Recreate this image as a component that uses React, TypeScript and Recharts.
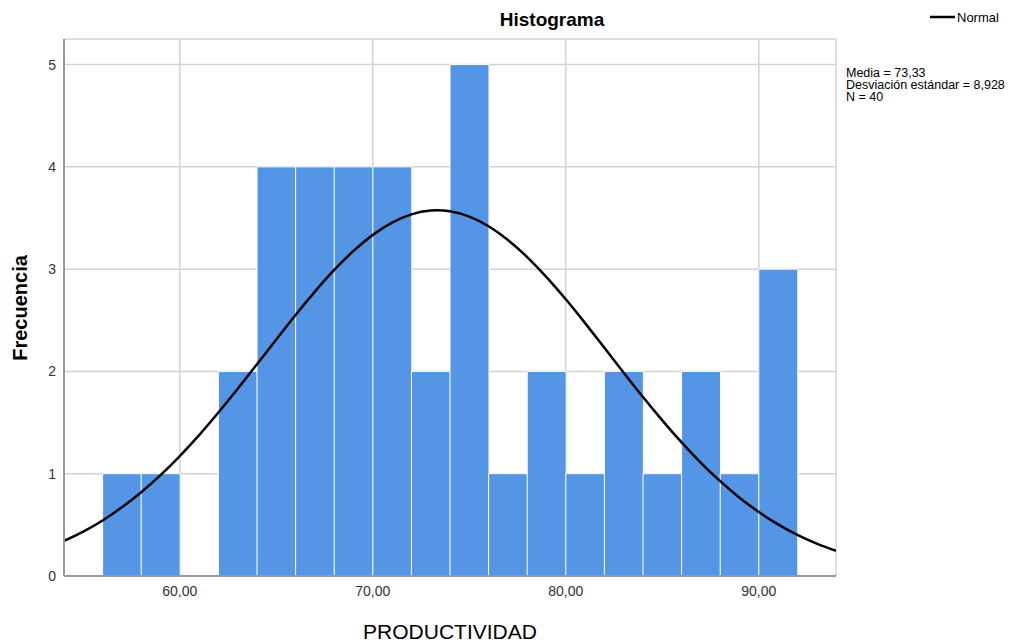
import React from 'react';
import { ComposedChart, Bar, Line, XAxis, YAxis, CartesianGrid } from 'recharts';

// histogram bins (2 units wide, 54 to 94)
const binStarts = [54, 56, 58, 60, 62, 64, 66, 68, 70, 72, 74, 76, 78, 80, 82, 84, 86, 88, 90, 92];
const frequencies = [0, 1, 1, 0, 2, 4, 4, 4, 4, 2, 5, 1, 2, 1, 2, 1, 2, 1, 3, 0];

// normal curve
const curveX = [54, 55, 56, 57, 58, 59, 60, 61, 62, 63, 64, 65, 66, 67, 68, 69, 70, 71, 72, 73, 74,
  75, 76, 77, 78, 79, 80, 81, 82, 83, 84, 85, 86, 87, 88, 89, 90, 91, 92, 93, 94];
const curveY = [0.343, 0.434, 0.543, 0.671, 0.819, 0.986, 1.173, 1.377, 1.598, 1.83, 2.071, 2.313,
  2.552, 2.78, 2.992, 3.178, 3.335, 3.455, 3.536, 3.573, 3.565, 3.513, 3.419, 3.285, 3.118, 2.922,
  2.705, 2.472, 2.231, 1.988, 1.75, 1.522, 1.306, 1.107, 0.927, 0.766, 0.626, 0.504, 0.401, 0.316, 0.245];

const xTicks = [60, 70, 80, 90];
const yTicks = [0, 1, 2, 3, 4, 5];
const stats = ['Media = 73,33', 'Desviación estándar = 8,928', 'N = 40'];

const binData = binStarts.map((b, i) => ({ bin: String(b), count: frequencies[i] }));
const curveData = curveX.map((x, i) => ({ x, y: curveY[i] }));

const FONT = '"Liberation Sans", Arial, sans-serif';

export default function App() {
  return (
    <div style={{ position: 'absolute', left: 0, top: 0, width: 1033, height: 644, fontFamily: FONT }}>
      <ComposedChart
        width={1033}
        height={644}
        data={binData}
        margin={{ top: 39, right: 197, bottom: 38, left: 34 }}
        barCategoryGap={0}
        barGap={0}
      >
        <CartesianGrid xAxisId="curve" stroke="#d2d2d2" strokeWidth={1.5} />
        <XAxis
          xAxisId="curve"
          type="number"
          dataKey="x"
          domain={[54, 94]}
          ticks={xTicks}
          allowDataOverflow
          height={30}
          tickLine={false}
          tickSize={0}
          tickMargin={10}
          axisLine={{ stroke: '#999', strokeWidth: 2 }}
          tick={{ fill: '#333', fontSize: 14, fontFamily: FONT }}
          tickFormatter={(v: number) => v.toFixed(2).replace('.', ',')}
        />
        <XAxis xAxisId="bins" dataKey="bin" hide height={0} />
        <YAxis
          domain={[0, 5.25]}
          ticks={yTicks}
          allowDataOverflow
          width={30}
          tickLine={false}
          tickSize={0}
          tickMargin={8}
          axisLine={{ stroke: '#999', strokeWidth: 2 }}
          tick={{ fill: '#333', fontSize: 14, fontFamily: FONT }}
        />
        <Bar
          xAxisId="bins"
          dataKey="count"
          fill="#5595e5"
          stroke="#ffffff"
          strokeWidth={1}
          isAnimationActive={false}
        />
        <Line
          xAxisId="curve"
          data={curveData}
          dataKey="y"
          type="natural"
          stroke="#000"
          strokeWidth={2.5}
          dot={false}
          activeDot={false}
          isAnimationActive={false}
        />
      </ComposedChart>
      <svg
        width={1033}
        height={644}
        style={{ position: 'absolute', left: 0, top: 0, pointerEvents: 'none' }}
        fontFamily={FONT}
      >
        <text x={552} y={26} textAnchor="middle" fontSize={19} fontWeight="bold" fill="#000">
          Histograma
        </text>
        <line x1={930} x2={955} y1={17} y2={17} stroke="#000" strokeWidth={2.5} />
        <text x={957} y={22} fontSize={13} fill="#000">Normal</text>
        {stats.map((s, i) => (
          <text key={s} x={846} y={77 + i * 12} fontSize={12.5} fill="#000">{s}</text>
        ))}
        <text
          x={27}
          y={308}
          transform="rotate(-90, 27, 308)"
          textAnchor="middle"
          fontSize={20}
          fontWeight="bold"
          fill="#000"
        >
          Frecuencia
        </text>
        <text x={450} y={639} textAnchor="middle" fontSize={21} fill="#000">
          PRODUCTIVIDAD
        </text>
      </svg>
    </div>
  );
}
